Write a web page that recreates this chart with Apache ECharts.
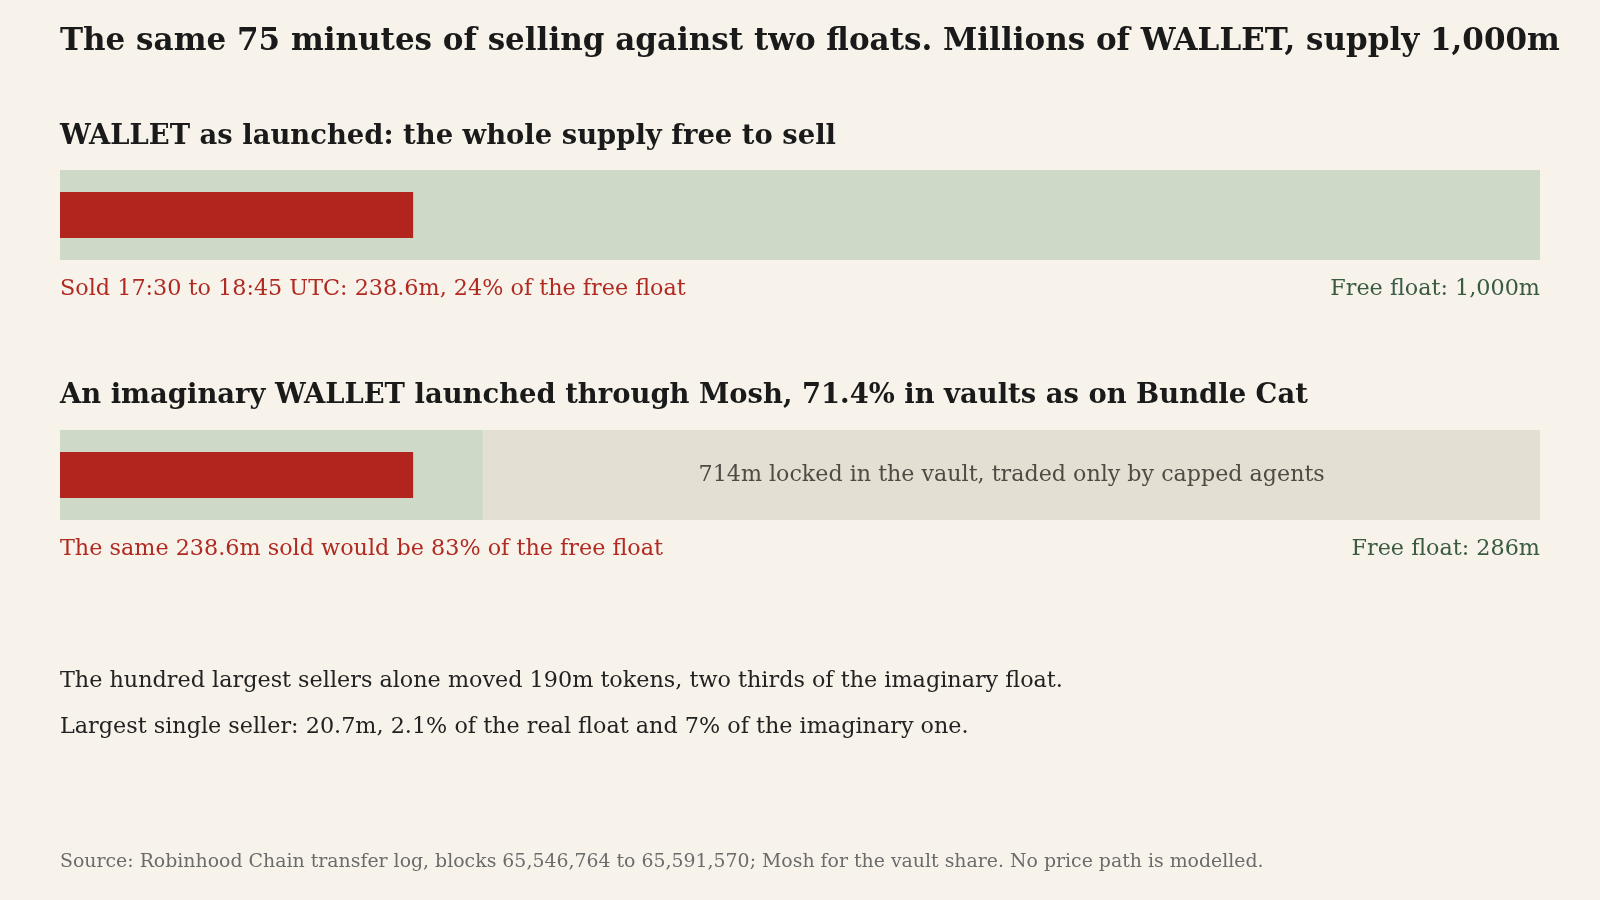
<!DOCTYPE html>
<html>
<head>
<meta charset="utf-8">
<title>WALLET floats</title>
<script src="https://cdn.jsdelivr.net/npm/echarts@6/dist/echarts.min.js"></script>
<style>
  html, body { margin: 0; padding: 0; background: #f7f3eb; }
  #chart { width: 1600px; height: 900px; }
</style>
</head>
<body>
<div id="chart"></div>
<script>
// millions of WALLET
const supply = 1000;
const panelTitles = [
  'WALLET as launched: the whole supply free to sell',
  'An imaginary WALLET launched through Mosh, 71.4% in vaults as on Bundle Cat'
];
const freeFloat = [1000, 286];
const locked = [0, 714];
const sold = [238.6, 238.6];
const soldLabels = [
  'Sold 17:30 to 18:45 UTC: 238.6m, 24% of the free float',
  'The same 238.6m sold would be 83% of the free float'
];
const floatLabels = ['Free float: 1,000m', 'Free float: 286m'];
const notes = [
  'The hundred largest sellers alone moved 190m tokens, two thirds of the imaginary float.',
  'Largest single seller: 20.7m, 2.1% of the real float and 7% of the imaginary one.'
];
const source = 'Source: Robinhood Chain transfer log, blocks 65,546,764 to 65,591,570; Mosh for the vault share. No price path is modelled.';

const FONT = '"DejaVu Serif", "Liberation Serif", serif';
const RED = '#b2241e';
const GREEN = '#cfd9c8';
const GREY = '#e3dfd3';

const gridTops = [170, 430];
const grids = [], xAxes = [], yAxes = [], series = [], graphics = [];

function text(str, x, y, size, color, opts) {
  opts = opts || {};
  graphics.push({
    type: 'text',
    silent: true,
    style: {
      text: str,
      x: x,
      y: y,
      fill: color,
      font: (opts.bold ? 'bold ' : '') + size + 'px ' + FONT,
      align: opts.align || 'left',
      verticalAlign: 'middle'
    }
  });
}

text('The same 75 minutes of selling against two floats. Millions of WALLET, supply 1,000m',
  60, 42, 31, '#1a1a1a', { bold: true });

panelTitles.forEach((t, i) => {
  const top = gridTops[i];
  grids.push({ left: 60, width: 1480, top: top, height: 90 });
  xAxes.push({ type: 'value', gridIndex: i, min: 0, max: supply, show: false });
  // two category axes in the same grid so the sold bar sits centred on the track
  yAxes.push({ type: 'category', gridIndex: i, data: ['float'], show: false });
  yAxes.push({ type: 'category', gridIndex: i, data: ['sold'], show: false });
  const ya = i * 2;
  series.push({
    type: 'bar', xAxisIndex: i, yAxisIndex: ya, stack: 'track' + i,
    data: [freeFloat[i]], barWidth: '100%',
    itemStyle: { color: GREEN }, silent: true
  });
  series.push({
    type: 'bar', xAxisIndex: i, yAxisIndex: ya, stack: 'track' + i,
    data: [locked[i]], barWidth: '100%',
    itemStyle: { color: GREY }, silent: true,
    label: {
      show: locked[i] > 0,
      position: 'inside',
      formatter: (p) => p.value + 'm locked in the vault, traded only by capped agents',
      fontFamily: FONT, fontSize: 22.2, color: '#4f4a44'
    }
  });
  series.push({
    type: 'bar', xAxisIndex: i, yAxisIndex: ya + 1,
    data: [sold[i]], barWidth: 46,
    itemStyle: { color: RED }, silent: true
  });

  text(t, 60, [137, 396][i], 27.4, '#1a1a1a', { bold: true });
  text(soldLabels[i], 60, top + 119, 22.3, '#b02a22');
  text(floatLabels[i], 1540, top + 119, 22.3, '#3a5a44', { align: 'right' });
});

text(notes[0], 60, 681, 22.3, '#222222');
text(notes[1], 60, 727, 22.3, '#222222');
text(source, 60, 862, 18.9, '#6b6b6b');

const chart = echarts.init(document.getElementById('chart'));
chart.setOption({
  backgroundColor: '#f7f3eb',
  animation: false,
  grid: grids,
  xAxis: xAxes,
  yAxis: yAxes,
  series: series,
  graphic: graphics
});
window.addEventListener('resize', () => chart.resize());
</script>
</body>
</html>
